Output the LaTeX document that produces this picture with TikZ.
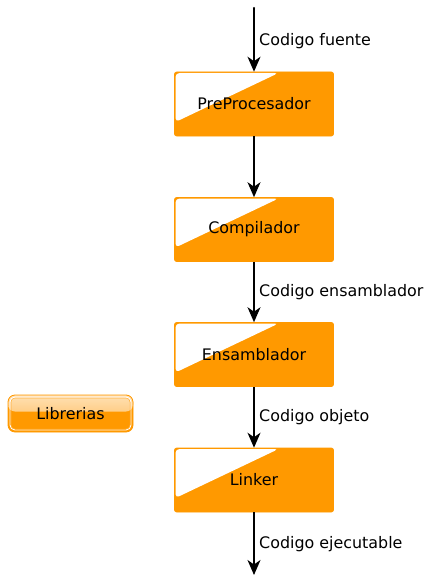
\documentclass[tikz,border=0pt]{standalone}
\usepackage{fontspec}
\setmainfont{DejaVu Sans}
\usetikzlibrary{arrows.meta,calc}
\definecolor{dorange}{RGB}{255,153,0}
\definecolor{lorange}{RGB}{255,224,180}
\definecolor{morange}{RGB}{255,185,80}
\tikzset{
  procbox/.style={minimum width=159pt, minimum height=64pt, inner sep=0pt, fill=dorange, draw=dorange, line width=0.6pt, rounded corners=2pt,
    font=\fontsize{15.9}{19}\selectfont,
    path picture={
      \fill[white, rounded corners=4pt]
        ([shift={(1pt,-1pt)}]path picture bounding box.north west) --
        ([shift={(104pt,-1pt)}]path picture bounding box.north west) --
        ([shift={(1pt,-50pt)}]path picture bounding box.north west) -- cycle;
    }},
  arr/.style={-{Stealth[length=15pt,width=13pt,inset=4.5pt]}, line width=1.4pt, black},
  lbl/.style={anchor=west, inner sep=0pt, font=\fontsize{15.9}{19}\selectfont},
}
\begin{document}
\begin{tikzpicture}[x=1pt,y=-1pt]
\useasboundingbox (0,0) rectangle (425,575);
\coordinate (start) at (254,8);
\coordinate (end) at (254,575);
\fill[black] (start) circle (1.2pt);
\node[procbox] (pre) at (254,104) {PreProcesador};
\node[procbox] (comp) at (254,229.5) {Compilador};
\node[procbox] (ens) at (254,354.5) {Ensamblador};
\node[procbox] (link) at (254,480) {Linker};
\draw[arr] (start) -- (pre.north);
\draw[arr] (pre.south) -- (comp.north);
\draw[arr] (comp.south) -- (ens.north);
\draw[arr] (ens.south) -- (link.north);
\draw[arr] (link.south) -- (end);
\node[lbl] (l1) at (259,41) {Codigo fuente};
\node[lbl] (l2) at (259,292) {Codigo ensamblador};
\node[lbl] (l3) at (259,417) {Codigo objeto};
\node[lbl] (l4) at (259,544) {Codigo ejecutable};
\node[minimum width=125pt, minimum height=37pt, inner sep=0pt, rounded corners=7pt, fill=dorange, draw=dorange, line width=0.8pt,
  font=\fontsize{15.9}{19}\selectfont,
  path picture={
    \fill[top color=lorange, bottom color=morange]
      ([shift={(0pt,0pt)}]path picture bounding box.north west) rectangle
      ([shift={(0pt,2pt)}]path picture bounding box.east);
    \draw[white, line width=0.9pt, rounded corners=5pt]
      ([shift={(2pt,-2pt)}]path picture bounding box.north west) rectangle
      ([shift={(-2pt,2pt)}]path picture bounding box.south east);
    \draw[dorange!80, line width=0.5pt, rounded corners=4pt]
      ([shift={(3pt,-3pt)}]path picture bounding box.north west) rectangle
      ([shift={(-3pt,3pt)}]path picture bounding box.south east);
  }] (lib) at (70.5,413.5) {Librerias};
\end{tikzpicture}
\end{document}
